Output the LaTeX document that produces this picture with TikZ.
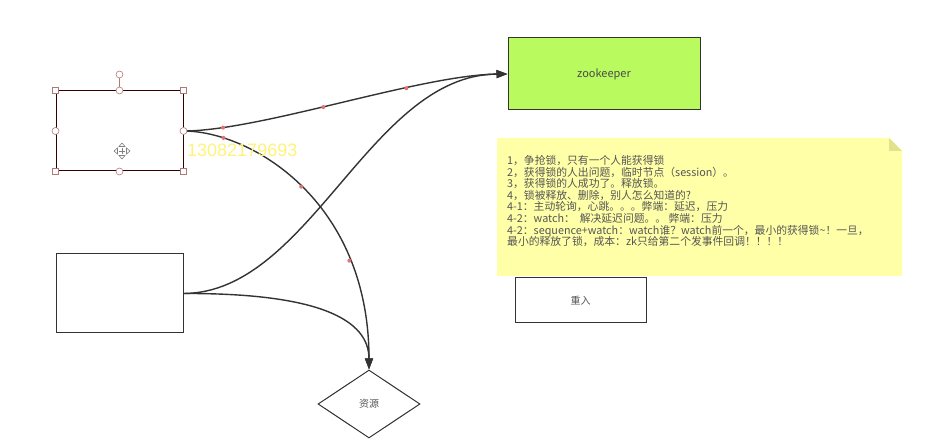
\documentclass[tikz,border=0pt]{standalone}
\usepackage{fontspec}
\setmainfont{Noto Sans CJK SC}
\newfontfamily\digitfont{Liberation Sans}
\usetikzlibrary{arrows.meta,shapes.geometric}
\definecolor{zkgreen}{HTML}{B9FA5E}
\definecolor{notey}{HTML}{FFFFA8}
\definecolor{foldy}{HTML}{E2E28E}
\definecolor{linec}{HTML}{333333}
\definecolor{txtc}{HTML}{555555}
\definecolor{handc}{HTML}{B07878}
\definecolor{dotc}{HTML}{E57070}
\definecolor{wmark}{HTML}{FFF27A}
\tikzset{
  boxnode/.style={draw=linec, line width=1pt, minimum width=127pt, minimum height=80pt, inner sep=0pt},
  conn/.style={draw=linec, line width=1.4pt, -{Triangle[length=11pt,width=8pt]}},
  reddot/.style={circle, fill=dotc, inner sep=0pt, minimum size=4pt},
  sqhandle/.style={draw=handc, fill=white, line width=0.6pt, minimum size=6pt, inner sep=0pt},
  cirhandle/.style={draw=handc, fill=white, circle, line width=0.6pt, minimum size=7pt, inner sep=0pt},
  lbl/.style={text=txtc, font=\fontsize{10pt}{12pt}\selectfont}
}
\begin{document}
\begin{tikzpicture}[x=1pt,y=-1pt]
\useasboundingbox (0,0) rectangle (935,446);
% boxes
\node[boxnode, draw=black!80!red] (A) at (119.5,131) {};
\node[boxnode, minimum height=79pt] (B) at (119.5,293.5) {};
\node[draw=linec, line width=1pt, fill=zkgreen, minimum width=192pt, minimum height=72pt, inner sep=0pt, text=black!70, font=\fontsize{11pt}{13pt}\selectfont] (Z) at (604,74) {zookeeper};
\node[draw=linec, line width=1pt, minimum width=131pt, minimum height=45pt, inner sep=0pt, lbl] (R) at (580.5,300.5) {重入};
\node[diamond, draw=linec, line width=1pt, minimum width=102pt, minimum height=68pt, inner sep=0pt, aspect=1.5, lbl] (D) at (369,404) {资源};
% note
\fill[notey] (497,138) -- (889,138) -- (902,151) -- (902,276) -- (497,276) -- cycle;
\fill[foldy] (889,138) -- (902,151) -- (889,151) -- cycle;
\node[anchor=north west, align=left, text=txtc, font=\fontsize{10.8pt}{11.65pt}\selectfont, inner sep=0pt] (N) at (507,155) {1，争抢锁，只有一个人能获得锁\\2，获得锁的人出问题，临时节点（session）。\\3，获得锁的人成功了。释放锁。\\4，锁被释放、删除，别人怎么知道的?\\4-1：主动轮询，心跳。。。弊端：延迟，压力\\4-2：watch：\ \ 解决延迟问题。。\ 弊端：压力\\4-2：sequence+watch：watch谁？watch前一个，最小的获得锁\textasciitilde！一旦，\\最小的释放了锁，成本：zk只给第二个发事件回调！！！！};
% connectors
\draw[conn] (A.east) .. controls (260,131) and (420,75) .. (Z.west)
  node[reddot, pos=0.15] {} node[reddot, pos=0.45] {} node[reddot, pos=0.68] {};
\draw[conn] (A.east) .. controls (250,131) and (369,200) .. (D.north)
  node[reddot, pos=0.18] {} node[reddot, pos=0.5] {} node[reddot, pos=0.75] {};
\draw[conn] (B.east) .. controls (310,293) and (370,75) .. (Z.west);
\draw[conn] (B.east) .. controls (320,293) and (369,320) .. (D.north);
% selection handles on A
\draw[handc, line width=0.6pt] (A.north) -- ++(0,-16) node[cirhandle, anchor=center] (rot) {};
\foreach \a in {north west, north east, south west, south east}
  \node[sqhandle] at (A.\a) {};
\foreach \a in {north, south, east, west}
  \node[cirhandle] at (A.\a) {};
% move icon
\begin{scope}[shift={(122,151)}, gray]
  \draw[line width=0.6pt] (-3,0) -- (3,0) (0,-3) -- (0,3);
  \draw[line width=0.6pt] (0,-8) -- (-3,-4.5) -- (3,-4.5) -- cycle;
  \draw[line width=0.6pt] (0,8) -- (-3,4.5) -- (3,4.5) -- cycle;
  \draw[line width=0.6pt] (-8,0) -- (-4.5,-3) -- (-4.5,3) -- cycle;
  \draw[line width=0.6pt] (8,0) -- (4.5,-3) -- (4.5,3) -- cycle;
\end{scope}
% watermark
\node[anchor=west, inner sep=0pt, text=wmark, font=\digitfont\fontsize{18pt}{20pt}\selectfont] (W) at (187,150) {13082179693};
\end{tikzpicture}
\end{document}
